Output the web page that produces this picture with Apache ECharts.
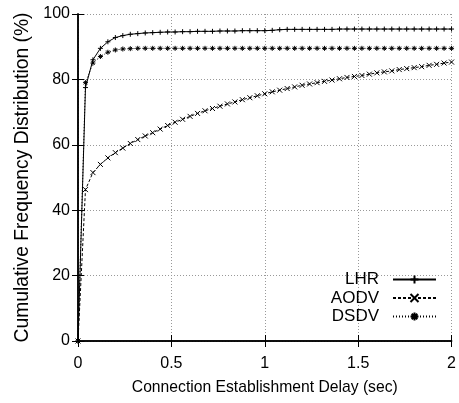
<!DOCTYPE html>
<html>
<head>
<meta charset="utf-8">
<script src="https://cdn.jsdelivr.net/npm/echarts@6/dist/echarts.min.js"></script>
<style>
html,body{margin:0;padding:0;background:#fff;}
#c{width:459px;height:403px;}
</style>
</head>
<body>
<div id="c"></div>
<script>
var delays = [0,0.04,0.08,0.12,0.16,0.2,0.24,0.28,0.32,0.36,0.4,0.44,0.48,0.52,0.56,0.6,0.64,0.68,0.72,0.76,0.8,0.84,0.88,0.92,0.96,1.0,1.04,1.08,1.12,1.16,1.2,1.24,1.28,1.32,1.36,1.4,1.44,1.48,1.52,1.56,1.6,1.64,1.68,1.72,1.76,1.8,1.84,1.88,1.92,1.96,2.0];
var lhr = [0,77.5,86,89.5,91.5,92.8,93.4,93.8,94.0,94.2,94.3,94.4,94.5,94.5,94.6,94.6,94.7,94.7,94.7,94.8,94.8,94.8,94.9,94.9,94.9,94.9,95.0,95.2,95.3,95.3,95.3,95.3,95.3,95.3,95.3,95.4,95.4,95.4,95.4,95.4,95.4,95.4,95.4,95.4,95.4,95.4,95.4,95.4,95.4,95.4,95.4];
var aodv = [0,46.3,51.5,54,56,57.6,59,60.4,61.6,62.7,63.7,64.8,65.9,66.9,67.8,68.7,69.6,70.4,71.1,71.8,72.5,73.1,73.8,74.4,75.0,75.6,76.2,76.7,77.2,77.7,78.2,78.6,79.0,79.4,79.8,80.2,80.6,80.9,81.2,81.6,82.0,82.3,82.6,83.0,83.3,83.6,83.9,84.3,84.6,85.0,85.3];
var dsdv = [0,79,85,87,88.3,89,89.3,89.4,89.5,89.5,89.5,89.5,89.5,89.5,89.5,89.5,89.5,89.5,89.5,89.5,89.5,89.5,89.5,89.5,89.5,89.5,89.5,89.5,89.5,89.5,89.5,89.5,89.5,89.5,89.5,89.5,89.5,89.5,89.5,89.5,89.5,89.5,89.5,89.5,89.5,89.5,89.5,89.5,89.5,89.5,89.5];
var seriesNames = ['LHR','AODV','DSDV'];
var xTicks = [0,0.5,1,1.5,2];
var yTicks = [0,20,40,60,80,100];

var FONT = '"Liberation Sans",Arial,sans-serif';
function pairs(v){ return delays.map(function(d,i){ return [d, v[i]]; }); }
var sym = {
  LHR: 'path://M0,5H10M5,0V10',
  AODV: 'path://M1,1L9,9M9,1L1,9',
  DSDV: 'path://M0,5H10M5,0V10M1.5,1.5L8.5,8.5M8.5,1.5L1.5,8.5'
};
var dash = {LHR:'solid', AODV:[3,2], DSDV:[1,2]};
var vals = {LHR:lhr, AODV:aodv, DSDV:dsdv};

var chart = echarts.init(document.getElementById('c'), null, {renderer:'canvas'});
var axBase = {
  axisLine:{show:true, lineStyle:{color:'#000', width:1.5}},
  axisTick:{show:true, inside:true, length:6, lineStyle:{color:'#000', width:1}},
  splitLine:{show:false}
};
chart.setOption({
  animation:false,
  backgroundColor:'#fff',
  grid:{left:78, right:3, top:14, bottom:62, containLabel:false},
  legend:{
    right:17, top:266, orient:'vertical', align:'right',
    itemWidth:43, itemHeight:10, itemGap:1.5,
    textStyle:{fontFamily:FONT, fontSize:17, color:'#000', padding:[0,9,0,0]},
    data:seriesNames
  },
  xAxis:[
    Object.assign({}, axBase, {type:'value', min:0, max:2, interval:0.5, position:'bottom',
      axisLabel:{fontFamily:FONT, fontSize:16, color:'#000', margin:15, formatter:function(v){return String(v);}},
      splitLine:{show:true, lineStyle:{color:'#999', type:[1,2], width:1}},
      name:'Connection Establishment Delay (sec)', nameLocation:'middle', nameGap:39,
      nameTextStyle:{fontFamily:FONT, fontSize:15.7, color:'#000'}}),
    Object.assign({}, axBase, {type:'value', min:0, max:2, interval:0.5, position:'top', axisLabel:{show:false}})
  ],
  yAxis:[
    Object.assign({}, axBase, {type:'value', min:0, max:100, interval:20, position:'left',
      axisLabel:{fontFamily:FONT, fontSize:16, color:'#000', margin:8},
      splitLine:{show:true, lineStyle:{color:'#999', type:[1,2], width:1}},
      name:'Cumulative Frequency Distribution (%)', nameLocation:'middle', nameGap:45,
      nameTextStyle:{fontFamily:FONT, fontSize:19.3, color:'#000'}}),
    Object.assign({}, axBase, {type:'value', min:0, max:100, interval:20, position:'right', axisLabel:{show:false}})
  ],
  series: seriesNames.map(function(n){
    return {
      name:n, type:'line', data:pairs(vals[n]),
      symbol:sym[n], symbolSize:5, showSymbol:true,
      lineStyle:{color:'#000', width:1, type:dash[n]},
      itemStyle:{color:'rgba(0,0,0,0)', borderColor:'#000', borderWidth:1},
      emphasis:{disabled:true}
    };
  })
});
</script>
</body>
</html>
